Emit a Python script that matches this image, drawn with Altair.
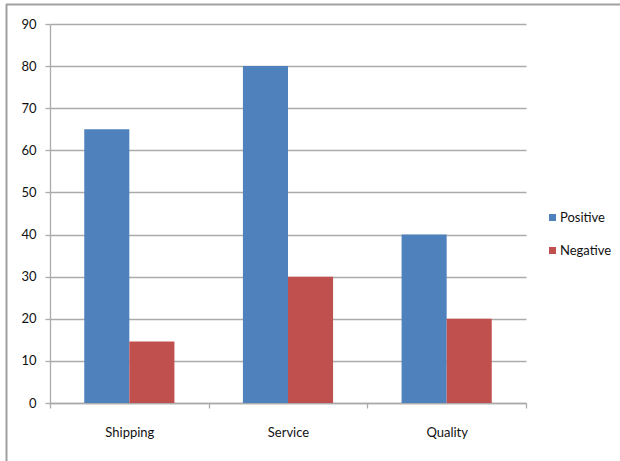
import altair as alt
import pandas as pd

categories = ["Shipping", "Service", "Quality"]
positive = [65, 80, 40]
negative = [14.6, 30, 20]
series = ["Positive", "Negative"]
colors = ["#4F81BD", "#C0504D"]

rows = []
for c, p, n in zip(categories, positive, negative):
    rows.append({"category": c, "series": "Positive", "value": p})
    rows.append({"category": c, "series": "Negative", "value": n})
df = pd.DataFrame(rows)

W, H = 476, 379
FONT = "Lato"
GRID = "#ababab"

bars = alt.Chart(df).mark_bar(stroke=None).encode(
    x=alt.X("category:N", sort=categories,
            scale=alt.Scale(paddingInner=0, paddingOuter=0),
            axis=alt.Axis(title=None, labelAngle=0, tickBand="extent",
                          domainColor=GRID, tickColor=GRID, domainWidth=1.3,
                          tickWidth=1.3, tickSize=5, labelPadding=18,
                          labelFont=FONT, labelFontSize=13, labelColor="#111111")),
    xOffset=alt.XOffset("series:N", sort=series,
                        scale=alt.Scale(paddingInner=0, paddingOuter=0.76)),
    y=alt.Y("value:Q", scale=alt.Scale(domain=[0, 90], nice=False),
            axis=alt.Axis(title=None, values=list(range(0, 91, 10)),
                          grid=True, gridColor=GRID, gridWidth=1.3,
                          domainColor=GRID, domainWidth=1.3, tickColor=GRID,
                          tickWidth=1.3, tickSize=5, labelPadding=9,
                          labelFont=FONT, labelFontSize=13, labelColor="#111111")),
    color=alt.Color("series:N", sort=series,
                    scale=alt.Scale(domain=series, range=colors),
                    legend=alt.Legend(title=None, orient="none", legendX=496, legendY=187,
                                      symbolType="square", symbolSize=49,
                                      symbolStrokeWidth=0, labelFont=FONT,
                                      labelFontSize=13, labelColor="#111111",
                                      rowPadding=19, labelOffset=1)),
)

frame = alt.Chart(pd.DataFrame({"k": [0]})).mark_rule(color="#a0a0a0", strokeWidth=2, clip=False)
top_line = frame.encode(x=alt.value(-44), x2=alt.value(W + 100), y=alt.value(-19.5))
left_line = frame.encode(x=alt.value(-43.5), y=alt.value(-20), y2=alt.value(H + 70))

chart = alt.layer(bars, top_line, left_line).properties(
    width=W, height=H,
    autosize=alt.AutoSizeParams(type="none"),
    padding={"left": 50, "top": 24, "right": 94, "bottom": 58},
    background="white",
).configure_view(stroke=None)

chart.save("out.html", embed_options={"renderer": "svg", "actions": False})
